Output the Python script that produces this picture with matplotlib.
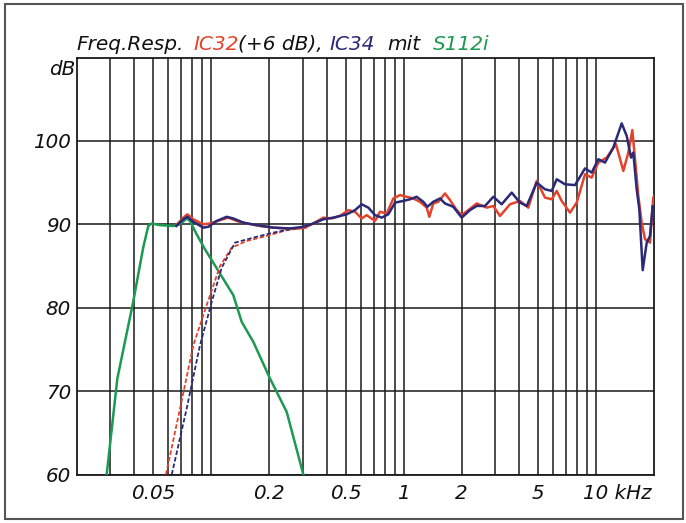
import matplotlib
matplotlib.use("Agg")
import matplotlib.pyplot as plt
from matplotlib.patches import Rectangle
from matplotlib.ticker import FixedLocator, NullFormatter, NullLocator

# ---- measured curves (frequency in Hz, level in dB) ----
s112i_f = [28.7, 32.6, 39.4, 44.5, 47.2, 49.2, 54.3, 63.7, 69.0, 74.7, 77.7,
           84.2, 93.0, 102.7, 130.5, 144.3, 165.8, 202.5, 247.2, 301.5]
s112i_db = [60.0, 71.5, 80.7, 87.3, 89.8, 90.1, 89.9, 89.8, 90.0, 90.7, 90.4,
            88.8, 87.0, 85.4, 81.5, 78.3, 75.9, 71.5, 67.5, 60.0]

ic32_hp_f = [58.3, 69.0, 80.9, 94.9, 111.3, 128.0, 153.2, 194.6, 247.2, 314.0]
ic32_hp_db = [60.0, 67.9, 75.5, 80.3, 85.0, 87.2, 88.0, 88.6, 89.3, 89.6]

ic34_hp_f = [62.5, 74.7, 87.6, 100.8, 113.6, 133.2, 165.8, 210.6, 257.2, 314.0]
ic34_hp_db = [60.0, 67.9, 75.5, 80.7, 84.8, 87.8, 88.4, 89.0, 89.4, 89.7]

ic32_f = [66.0, 71.8, 75.3, 80.9, 91.1, 98.7, 111.3, 122.9, 135.9, 153.2, 179.6,
          210.6, 247.2, 278.6, 307.6, 339.8, 383.0, 423.5, 467.7, 516.5, 559.6,
          606.3, 643.6, 710.8, 754.6, 817.6, 884.8, 958.5, 1038, 1124, 1217,
          1319, 1361, 1427, 1515, 1642, 1743, 1888, 2005, 2170, 2399, 2704,
          2926, 3170, 3573, 4026, 4446, 4917, 5430, 5884, 6247, 6630, 7323,
          7934, 8763, 9493, 10270, 11360, 12690, 13860, 14710, 15430, 15940,
          16580, 17260, 17960, 19060, 19830, 20000]
ic32_db = [89.9, 90.8, 91.2, 90.6, 90.0, 90.1, 90.5, 90.8, 90.4, 90.1, 89.8,
           89.6, 89.5, 89.5, 89.6, 90.1, 90.8, 90.7, 91.0, 91.7, 91.5,
           90.7, 91.1, 90.4, 91.5, 91.3, 93.1, 93.5, 93.3, 93.1, 92.7,
           92.0, 90.9, 92.5, 92.7, 93.7, 92.9, 91.7, 91.1, 91.7, 92.5, 92.0,
           92.2, 91.0, 92.4, 92.8, 92.0, 95.2, 93.2, 93.0, 94.0, 92.8, 91.4,
           92.6, 96.0, 95.6, 97.4, 98.0, 99.6, 96.4, 98.6, 101.3, 97.8,
           93.4, 90.2, 88.2, 87.8, 93.2, 93.4]

ic34_f = [66.0, 71.8, 75.3, 80.9, 91.1, 96.8, 107.0, 120.6, 130.5, 147.1, 172.7,
          210.6, 257.2, 301.5, 339.8, 383.0, 431.6, 506.7, 559.6, 606.3, 656.0,
          710.8, 770.0, 833.5, 902.8, 997.0, 1080, 1170, 1266, 1330, 1427,
          1547, 1642, 1813, 2005, 2214, 2399, 2650, 2926, 3234, 3646, 4026,
          4363, 4917, 5430, 5884, 6247, 6897, 7775, 8763, 9493, 10270, 11130,
          12290, 13590, 14430, 15190, 15610, 16260, 16780, 17470, 18330,
          19060, 19690, 20000]
ic34_db = [89.8, 90.6, 90.9, 90.3, 89.6, 89.7, 90.4, 90.9, 90.7, 90.2, 89.9,
           89.6, 89.5, 89.7, 90.1, 90.6, 90.8, 91.2, 91.7, 92.4, 92.0,
           91.1, 90.8, 91.2, 92.6, 92.8, 93.0, 93.3, 92.7, 92.1, 92.7,
           93.1, 92.5, 92.1, 90.8, 91.7, 92.2, 92.2, 93.3, 92.4, 93.8, 92.6,
           92.2, 95.0, 94.2, 94.0, 95.4, 94.8, 94.7, 96.7, 96.2, 97.8, 97.4,
           99.2, 102.1, 100.6, 98.0, 98.6, 94.2, 91.8, 84.5, 87.8,
           88.6, 92.2, 91.8]

# ---- axis ticks and labels ----
grid_freqs = [m * 10 ** e for e in (1, 2, 3, 4) for m in range(1, 10)]
grid_freqs = [g for g in grid_freqs if 20 < g < 20000]
db_ticks = [60, 70, 80, 90, 100]
freq_ticks = [50, 200, 500, 1000, 2000, 5000, 10000]
freq_labels = ["0.05", "0.2", "0.5", "1", "2", "5", "10 kHz"]

RED = "#e4432b"
NAVY = "#2a2a78"
GREEN = "#1d9a52"
INK = "#111111"

# title pieces with their left edges in pixels
title_parts = [("Freq.Resp.", INK, 76), ("IC32", RED, 193), ("(+6 dB),", INK, 238),
               ("IC34", NAVY, 329), ("mit", INK, 387), ("S112i", GREEN, 433)]

W, H = 686, 523
fig = plt.figure(figsize=(W / 100, H / 100), dpi=100)
fig.patch.set_facecolor("white")

x0, x1, y0, y1 = 76.5, 654.0, 57.5, 474.5
ax = fig.add_axes([x0 / W, 1 - y1 / H, (x1 - x0) / W, (y1 - y0) / H])
ax.set_xscale("log")
ax.set_xlim(20, 20000)
ax.set_ylim(60, 110)

for g in grid_freqs:
    ax.axvline(g, color="#1a1a1a", lw=1.1, zorder=1)
for d in db_ticks:
    ax.axhline(d, color="#1a1a1a", lw=1.1, zorder=1)

ax.plot(s112i_f, s112i_db, color=GREEN, lw=1.8, zorder=3)
ax.plot(ic32_hp_f, ic32_hp_db, color=RED, lw=1.3, ls=(0, (2.5, 1.2)), zorder=3)
ax.plot(ic34_hp_f, ic34_hp_db, color=NAVY, lw=1.3, ls=(0, (2.5, 1.2)), zorder=3)
ax.plot(ic32_f, ic32_db, color=RED, lw=1.8, zorder=4)
ax.plot(ic34_f, ic34_db, color=NAVY, lw=1.8, zorder=4)

for s in ax.spines.values():
    s.set_color("#1a1a1a")
    s.set_linewidth(1.3)

font = dict(family="DejaVu Sans", style="italic", size=14.3, color=INK)

ax.xaxis.set_major_locator(FixedLocator(freq_ticks))
ax.xaxis.set_major_formatter(NullFormatter())
ax.xaxis.set_minor_locator(NullLocator())
ax.xaxis.set_minor_formatter(NullFormatter())
ax.yaxis.set_major_locator(FixedLocator(db_ticks))
ax.set_yticklabels([str(d) for d in db_ticks], **font)
ax.tick_params(axis="both", length=0)
ax.tick_params(axis="y", pad=4)

for f, lab in zip(freq_ticks, freq_labels):
    if lab.endswith("kHz"):
        ax.annotate(lab, xy=(1.0, 0), xycoords="axes fraction",
                    xytext=(-2, -7), textcoords="offset points",
                    ha="right", va="top", **font)
    else:
        ax.annotate(lab, xy=(f, 0), xycoords=("data", "axes fraction"),
                    xytext=(0, -7), textcoords="offset points",
                    ha="center", va="top", **font)

ax.annotate("dB", xy=(0, 1), xycoords="axes fraction", xytext=(-1, -2),
            textcoords="offset points", ha="right", va="top", **font)

# multi-coloured title
tfont = dict(family="DejaVu Sans", style="italic", size=14.5)
for txt, col, px in title_parts:
    fig.text(px / W, 1 - 50 / H, txt, color=col, ha="left", va="baseline", **tfont)

fig.add_artist(Rectangle((5 / W, 4 / H), (683 - 5) / W, (519 - 4) / H,
                         transform=fig.transFigure, fill=False,
                         ec="#555555", lw=1.5))

fig.savefig("out.png", dpi=100)
